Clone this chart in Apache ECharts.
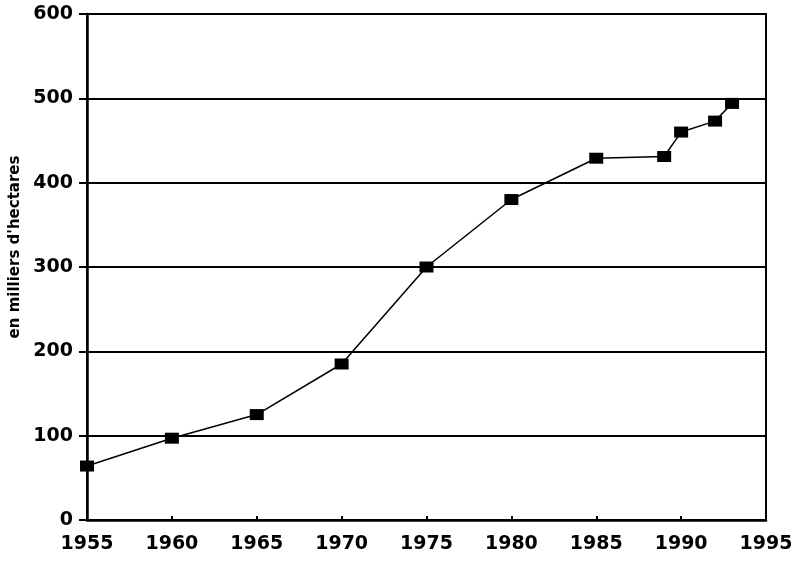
<!DOCTYPE html>
<html><head><meta charset="utf-8">
<script src="https://cdn.jsdelivr.net/npm/echarts@6/dist/echarts.min.js"></script>
<style>html,body{margin:0;padding:0;background:#fff}#c{width:797px;height:563px}</style>
</head><body><div id="c"></div>
<script>
const years = [1955, 1960, 1965, 1970, 1975, 1980, 1985, 1989, 1990, 1992, 1993];
const values = [64, 97, 125, 185, 300, 380, 429, 431, 460, 473, 494];
const yTicks = [0, 100, 200, 300, 400, 500, 600];
const yName = "en milliers d'hectares";

const chart = echarts.init(document.getElementById('c'));
const font = 'DejaVu Sans';
chart.setOption({
  animation: false,
  backgroundColor: '#fff',
  grid: {left: 87, right: 31, top: 14, bottom: 43, show: true, borderColor: '#000', borderWidth: 2,
         containLabel: false, outerBoundsMode: 'none'},
  xAxis: {
    type: 'value', min: 1955, max: 1995, interval: 5,
    axisLine: {lineStyle: {color: '#000', width: 2.5}},
    axisTick: {show: true, inside: true, length: 4, lineStyle: {color: '#000', width: 2}},
    axisLabel: {color: '#000', fontFamily: font, fontWeight: 'bold', fontSize: 19, margin: 15, formatter: v => String(v)},
    splitLine: {show: false}
  },
  yAxis: {
    type: 'value', min: yTicks[0], max: yTicks[yTicks.length-1], interval: 100,
    name: yName, nameLocation: 'middle', nameGap: 62, nameRotate: 90,
    nameTextStyle: {color: '#000', fontFamily: font, fontWeight: 'bold', fontSize: 15, padding: [0, 0, 0, 40]},
    axisLine: {show: true, lineStyle: {color: '#000', width: 2.5}},
    axisTick: {show: true, length: 8, lineStyle: {color: '#000', width: 2}},
    axisLabel: {color: '#000', fontFamily: font, fontWeight: 'bold', fontSize: 19, margin: 14},
    splitLine: {show: true, lineStyle: {color: '#000', width: 2}}
  },
  series: [{
    type: 'line',
    data: years.map((y, i) => [y, values[i]]),
    symbol: 'rect', symbolSize: [14, 11],
    itemStyle: {color: '#000'},
    lineStyle: {color: '#000', width: 1.5}
  }]
});
</script></body></html>
